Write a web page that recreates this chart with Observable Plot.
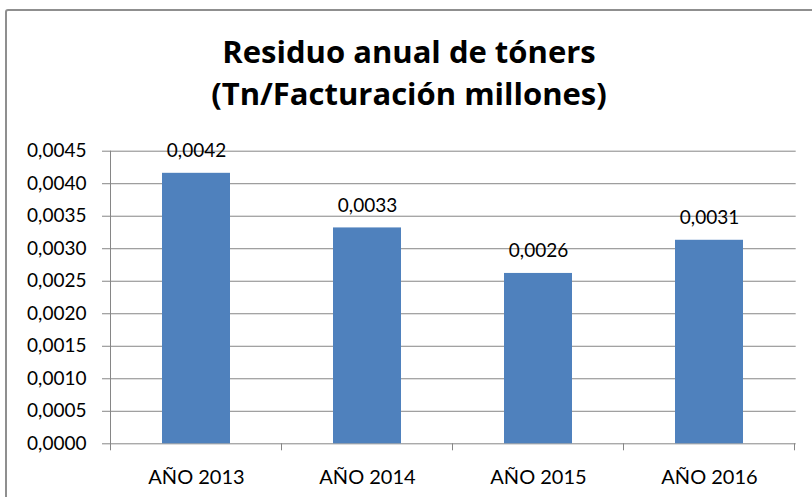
<!DOCTYPE html>
<html>
<head>
<meta charset="utf-8">
<script src="https://cdn.jsdelivr.net/npm/d3@7"></script>
<script src="https://cdn.jsdelivr.net/npm/@observablehq/plot@0.6"></script>
<style>
  html, body { margin: 0; padding: 0; background: #fff; }
  #wrap { position: relative; width: 812px; height: 497px; overflow: hidden; background: #fff; }
  #border { position: absolute; left: 5px; top: 9px; width: 900px; height: 600px; border: 2px solid #8f8f8f; border-radius: 3px; box-sizing: border-box; }
  #title { position: absolute; left: 6px; top: 30.3px; width: 806px; text-align: center;
           font: 700 31px "Open Sans", sans-serif; line-height: 42px; color: #000; }
  #chart { position: absolute; left: 0; top: 0; }
</style>
</head>
<body>
<div id="wrap">
  <div id="border"></div>
  <div id="chart"></div>
  <div id="title">Residuo anual de tóners<br>(Tn/Facturación millones)</div>
</div>
<script>
const categories = ["AÑO 2013", "AÑO 2014", "AÑO 2015", "AÑO 2016"];
const values = [0.00416, 0.00332, 0.00262, 0.00313];
const yTicks = [0, 0.0005, 0.0010, 0.0015, 0.0020, 0.0025, 0.0030, 0.0035, 0.0040, 0.0045];

const data = categories.map((c, i) => ({cat: c, value: values[i]}));
const fmt = v => v.toFixed(4).replace(".", ",");
const gray = "#868686";

function boundaryTicks(index, scales, vals, dims) {
  const {width, height, marginLeft, marginRight, marginTop, marginBottom} = dims;
  const xs = scales.x;
  const y0 = height - marginBottom;
  const n = categories.length;
  const st = (xs && xs.step) ? xs.step() : (width - marginLeft - marginRight) / n;
  const bw = (xs && xs.bandwidth) ? xs.bandwidth() : 0;
  const g = d3.create("svg:g").attr("stroke", gray).attr("stroke-width", 1);
  const bounds = categories.map(c => xs(c) + bw / 2 - st / 2);
  bounds.push(xs(categories[n - 1]) + bw / 2 + st / 2);
  // vertical axis line
  g.append("line").attr("x1", bounds[0]).attr("x2", bounds[0])
    .attr("y1", scales.y(yTicks[yTicks.length - 1])).attr("y2", y0 + 7);
  bounds.slice(1).forEach(b => {
    g.append("line").attr("x1", b).attr("x2", b).attr("y1", y0).attr("y2", y0 + 7);
  });
  return g.node();
}

const chart = Plot.plot({
  width: 812,
  height: 497,
  marginLeft: 110,
  marginRight: 16.3,
  marginTop: 150.7,
  marginBottom: 53.7,
  style: {fontFamily: "Lato, sans-serif", fontSize: "19px", color: "#000", background: "transparent", overflow: "visible"},
  x: {domain: categories, paddingInner: 0.6, paddingOuter: 0.3, label: null},
  y: {domain: [0, 0.0045], label: null},
  marks: [
    Plot.gridY(yTicks, {stroke: gray, strokeOpacity: 1}),
    Plot.barY(data, {x: "cat", y: "value", fill: "#4F81BD"}),
    boundaryTicks,
    Plot.axisY({ticks: yTicks, tickSize: 8, tickPadding: 16, stroke: gray, fill: "#000", tickFormat: fmt, fontSize: 19, label: null}),
    Plot.axisX({tickSize: 0, tickPadding: 26, fontSize: 20, fill: "#000", label: null}),
    Plot.text(data, {x: "cat", y: "value", text: d => fmt(d.value), dy: -22.5, fontSize: 19, fill: "#000"})
  ]
});
document.getElementById("chart").appendChild(chart);
</script>
</body>
</html>
